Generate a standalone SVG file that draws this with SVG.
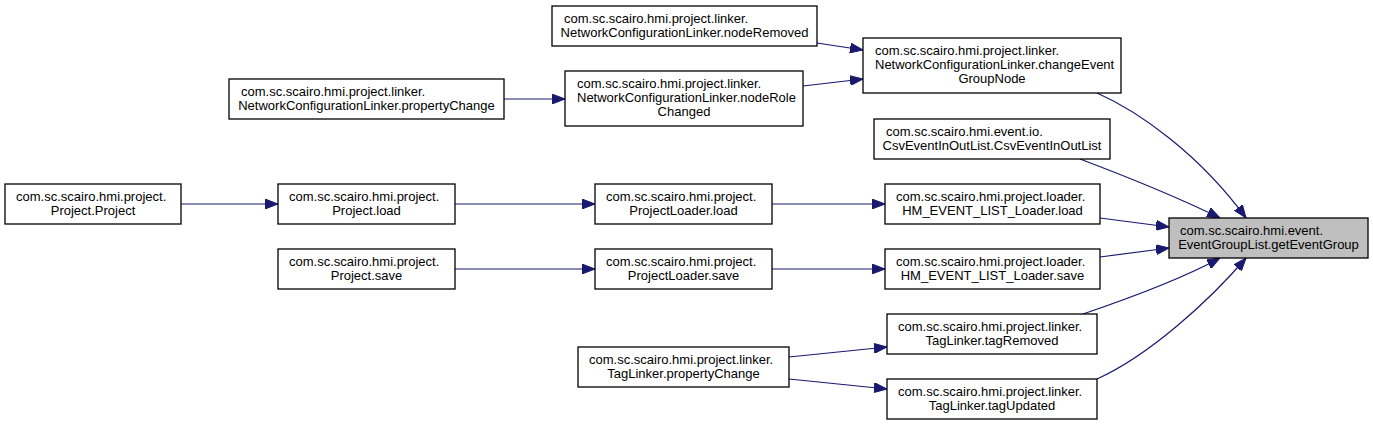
<svg xmlns="http://www.w3.org/2000/svg" width="1373" height="427" viewBox="0 0 1373 427">
<style>
.bg{fill:#ffffff}
.box{fill:#ffffff;stroke:#000000;stroke-width:1.3}
.cur{fill:#bfbfbf;stroke:#000000;stroke-width:1.3}
text{font-family:"Liberation Sans",Arial,sans-serif;font-size:13px;fill:#000000}
.l{text-anchor:start}
.m{text-anchor:middle}
.edge{fill:none;stroke:#191970;stroke-width:1.2}
</style>
<defs>
<marker id="arr" viewBox="0 0 13 10" markerWidth="13" markerHeight="10" refX="13" refY="5" orient="auto" markerUnits="userSpaceOnUse">
<path d="M0,0 L13,5 L0,10 Z" fill="#191970" stroke="#191970" stroke-width="1"/>
</marker>
</defs>
<rect class="bg" x="0" y="0" width="1373" height="427"/>
<g id="connectors">
<path class="edge" d="M817,43 L863,50" marker-end="url(#arr)"/>
<path class="edge" d="M803,86 L863,79" marker-end="url(#arr)"/>
<path class="edge" d="M504,99 L565,99" marker-end="url(#arr)"/>
<path class="edge" d="M1097,93 C1140,112 1200,155 1246,218" marker-end="url(#arr)"/>
<path class="edge" d="M1080,159 C1125,176 1175,196 1220,218" marker-end="url(#arr)"/>
<path class="edge" d="M1100,218 L1169,227" marker-end="url(#arr)"/>
<path class="edge" d="M1100,257 L1169,248" marker-end="url(#arr)"/>
<path class="edge" d="M1083,314 C1130,298 1180,280 1220,258" marker-end="url(#arr)"/>
<path class="edge" d="M1097,379 C1150,355 1210,300 1246,258" marker-end="url(#arr)"/>
<path class="edge" d="M181,204 L278,204" marker-end="url(#arr)"/>
<path class="edge" d="M455,204 L595,204" marker-end="url(#arr)"/>
<path class="edge" d="M772,204 L885,204" marker-end="url(#arr)"/>
<path class="edge" d="M455,269 L595,269" marker-end="url(#arr)"/>
<path class="edge" d="M772,269 L885,269" marker-end="url(#arr)"/>
<path class="edge" d="M789,357 L887,347" marker-end="url(#arr)"/>
<path class="edge" d="M789,379 L887,389" marker-end="url(#arr)"/>
</g>
<g id="node-nodeRemoved">
<rect class="box" x="552" y="6" width="265" height="40"/>
<text class="l" x="564" y="22.5">com.sc.scairo.hmi.project.linker.</text>
<text class="m" x="684.5" y="36.5">NetworkConfigurationLinker.nodeRemoved</text>
</g>
<g id="node-changeEventGroupNode">
<rect class="box" x="863" y="38" width="258" height="55"/>
<text class="l" x="875" y="55">com.sc.scairo.hmi.project.linker.</text>
<text class="l" x="875" y="69">NetworkConfigurationLinker.changeEvent</text>
<text class="m" x="992" y="83">GroupNode</text>
</g>
<g id="node-nodeRoleChanged">
<rect class="box" x="565" y="71" width="238" height="55"/>
<text class="l" x="577" y="88">com.sc.scairo.hmi.project.linker.</text>
<text class="l" x="577" y="102">NetworkConfigurationLinker.nodeRole</text>
<text class="m" x="684" y="116">Changed</text>
</g>
<g id="node-ncl-propertyChange">
<rect class="box" x="229" y="79" width="275" height="40"/>
<text class="l" x="241" y="95.5">com.sc.scairo.hmi.project.linker.</text>
<text class="m" x="366.5" y="109.5">NetworkConfigurationLinker.propertyChange</text>
</g>
<g id="node-csvEventInOutList">
<rect class="box" x="874" y="119" width="236" height="40"/>
<text class="l" x="886" y="135.5">com.sc.scairo.hmi.event.io.</text>
<text class="m" x="992" y="149.5">CsvEventInOutList.CsvEventInOutList</text>
</g>
<g id="node-projectProject">
<rect class="box" x="5" y="184" width="176" height="40"/>
<text class="l" x="16" y="200.5">com.sc.scairo.hmi.project.</text>
<text class="m" x="93" y="214.5">Project.Project</text>
</g>
<g id="node-projectLoad">
<rect class="box" x="278" y="184" width="177" height="40"/>
<text class="l" x="289" y="200.5">com.sc.scairo.hmi.project.</text>
<text class="m" x="366.5" y="214.5">Project.load</text>
</g>
<g id="node-projectLoaderLoad">
<rect class="box" x="595" y="184" width="177" height="40"/>
<text class="l" x="606" y="200.5">com.sc.scairo.hmi.project.</text>
<text class="m" x="683.5" y="214.5">ProjectLoader.load</text>
</g>
<g id="node-hmLoad">
<rect class="box" x="885" y="184" width="215" height="40"/>
<text class="l" x="896" y="200.5">com.sc.scairo.hmi.project.loader.</text>
<text class="m" x="992.5" y="214.5">HM_EVENT_LIST_Loader.load</text>
</g>
<g id="node-getEventGroup">
<rect class="cur" x="1169" y="218" width="199" height="40"/>
<text class="l" x="1180" y="234.5">com.sc.scairo.hmi.event.</text>
<text class="m" x="1268.5" y="248.5">EventGroupList.getEventGroup</text>
</g>
<g id="node-projectSave">
<rect class="box" x="278" y="249" width="177" height="40"/>
<text class="l" x="289" y="265.5">com.sc.scairo.hmi.project.</text>
<text class="m" x="366.5" y="279.5">Project.save</text>
</g>
<g id="node-projectLoaderSave">
<rect class="box" x="595" y="249" width="177" height="40"/>
<text class="l" x="606" y="265.5">com.sc.scairo.hmi.project.</text>
<text class="m" x="683.5" y="279.5">ProjectLoader.save</text>
</g>
<g id="node-hmSave">
<rect class="box" x="885" y="249" width="215" height="40"/>
<text class="l" x="896" y="265.5">com.sc.scairo.hmi.project.loader.</text>
<text class="m" x="992.5" y="279.5">HM_EVENT_LIST_Loader.save</text>
</g>
<g id="node-tagRemoved">
<rect class="box" x="887" y="314" width="210" height="40"/>
<text class="l" x="898" y="330.5">com.sc.scairo.hmi.project.linker.</text>
<text class="m" x="992" y="344.5">TagLinker.tagRemoved</text>
</g>
<g id="node-tagLinker-propertyChange">
<rect class="box" x="578" y="347" width="211" height="40"/>
<text class="l" x="589" y="363.5">com.sc.scairo.hmi.project.linker.</text>
<text class="m" x="683.5" y="377.5">TagLinker.propertyChange</text>
</g>
<g id="node-tagUpdated">
<rect class="box" x="887" y="379" width="210" height="40"/>
<text class="l" x="898" y="395.5">com.sc.scairo.hmi.project.linker.</text>
<text class="m" x="992" y="409.5">TagLinker.tagUpdated</text>
</g>
</svg>
